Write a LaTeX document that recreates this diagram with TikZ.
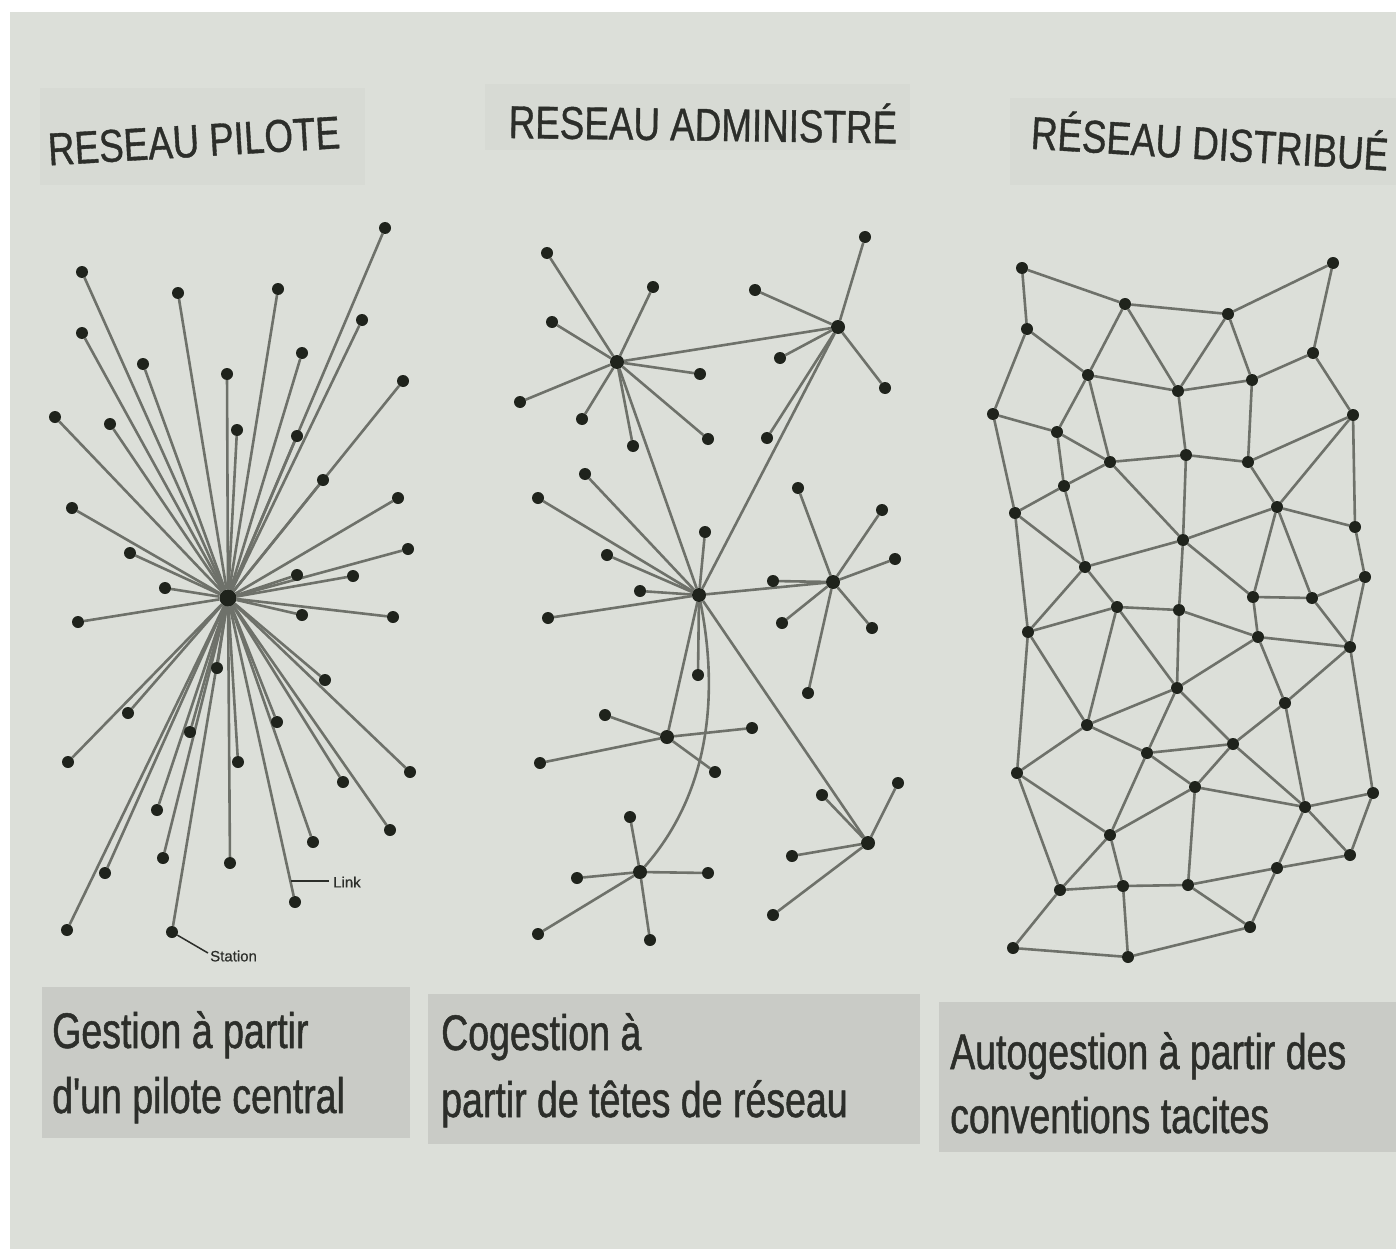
\documentclass[tikz,border=0pt]{standalone}
\usepackage{fontspec}
\setmainfont{Liberation Sans}
\newfontfamily\titlefont[FakeStretch=0.8,FakeBold=0.8]{Liberation Sans}
\newfontfamily\capfont[FakeStretch=0.75,FakeBold=1.0]{Liberation Sans}
\newfontfamily\smallfont[FakeBold=0.6]{Liberation Sans}
\pgfdeclarelayer{bg}
\pgfdeclarelayer{edges}
\pgfsetlayers{bg,edges,main}
\definecolor{paper}{HTML}{DCDFD9}
\definecolor{titlebox}{HTML}{D7DAD4}
\definecolor{capbox}{HTML}{C9CBC6}
\definecolor{dotc}{HTML}{1F231C}
\definecolor{linec}{HTML}{6E716A}
\definecolor{inkc}{HTML}{2C2E2A}
\begin{document}
\begin{tikzpicture}[x=1pt,y=-1pt,
  dot/.style={circle,fill=dotc,inner sep=0pt,minimum size=12pt},
  hubdot/.style={circle,fill=dotc,inner sep=0pt,minimum size=14pt},
  link/.style={draw=linec,line width=2.6pt},
  leader/.style={draw=inkc,line width=1.5pt},
  ttl/.style={text=inkc,font=\titlefont\fontsize{46}{50}\selectfont,inner sep=0pt},
  captxt/.style={text=inkc,font=\capfont\fontsize{50}{64}\selectfont,inner sep=0pt,anchor=base west},
  smalltxt/.style={text=inkc,font=\smallfont\fontsize{15}{16}\selectfont,inner sep=0pt,anchor=west}]
\useasboundingbox (0,0) rectangle (1396,1249);
\begin{pgfonlayer}{bg}
  \fill[white] (0,0) rectangle (1396,1249);
  \fill[paper] (10,12) rectangle (1396,1249);
  \fill[titlebox] (40,88) rectangle (365,185);
  \fill[titlebox] (485,84) rectangle (910,150);
  \fill[titlebox] (1010,98) rectangle (1396,185);
  \fill[capbox] (42,987) rectangle (410,1138);
  \fill[capbox] (428,994) rectangle (920,1144);
  \fill[capbox] (939,1002) rectangle (1396,1152);
\end{pgfonlayer}

% titles
\node[ttl,rotate=3.4] (t1) at (194,141) {RESEAU PILOTE};
\node[ttl,rotate=-0.8] (t2) at (703,121) {RESEAU ADMINISTRÉ};
\node[ttl,rotate=-3.5] (t3) at (1210,140) {RÉSEAU DISTRIBUÉ};

% captions
\node[captxt] (c1a) at (52,1048) {Gestion à partir};
\node[captxt] (c1b) at (52,1113) {d'un pilote central};
\node[captxt] (c2a) at (441,1050) {Cogestion à};
\node[captxt] (c2b) at (441,1117) {partir de têtes de réseau};
\node[captxt] (c3a) at (950,1069) {Autogestion à partir des};
\node[captxt] (c3b) at (950,1133) {conventions tacites};

% ---------- pilot network ----------
\node[circle,fill=dotc,inner sep=0pt,minimum size=17pt] (pc) at (228,598) {};
\foreach \i/\x/\y in {1/385/228,2/82/272,3/178/293,4/278/289,5/362/320,6/82/333,
  7/302/353,8/143/364,9/227/374,10/403/381,11/55/417,12/110/424,13/237/430,
  14/297/436,15/323/480,16/72/508,17/398/498,18/130/553,19/408/549,20/353/576,
  21/297/575,22/165/588,23/78/622,24/302/615,25/393/617,26/217/668,27/325/680,
  28/128/713,29/277/722,30/190/732,31/68/762,32/238/762,33/410/772,34/343/782,
  35/157/810,36/390/830,37/313/842,38/163/858,39/230/863,40/105/873,41/295/902,
  42/67/930,43/172/932}{
  \node[dot] (p\i) at (\x,\y) {};
  \begin{pgfonlayer}{edges}\draw[link] (pc) -- (p\i);\end{pgfonlayer}
}
\coordinate (lkA) at (291,881);
\coordinate (lkB) at (329,881);
\draw[leader] (lkA) -- (lkB);
\node[smalltxt] (lk) at (333,882) {Link};
\coordinate (stB) at (208,953);
\draw[leader] (p43) -- (stB);
\node[smalltxt] (st) at (210,956) {Station};

% ---------- administered network ----------
\node[hubdot] (aA) at (617,362) {};
\node[hubdot] (aB) at (838,327) {};
\node[hubdot] (aC) at (699,595) {};
\node[hubdot] (aD) at (833,582) {};
\node[hubdot] (aE) at (667,737) {};
\node[hubdot] (aF) at (868,843) {};
\node[hubdot] (aG) at (640,872) {};
\begin{pgfonlayer}{edges}
  \draw[link] (aA) -- (aB);
  \draw[link] (aA) -- (aC);
  \draw[link] (aB) -- (aC);
  \draw[link] (aC) -- (aD);
  \draw[link] (aC) -- (aE);
  \draw[link] (aC) -- (aF);
  \draw[link] (aC) .. controls (718,690) and (712,790) .. (aG);
\end{pgfonlayer}
\foreach \n/\x/\y/\h in {a1/547/253/aA,a2/653/287/aA,a3/552/322/aA,a4/520/402/aA,
  a5/582/419/aA,a6/633/446/aA,a7/700/374/aA,a8/708/439/aA,
  a9/865/237/aB,a10/755/290/aB,a11/780/358/aB,a12/885/388/aB,a13/767/438/aB,
  a14/585/474/aC,a15/538/498/aC,a16/607/555/aC,a17/705/532/aC,a18/640/591/aC,
  a19/548/618/aC,a20/698/675/aC,
  a21/798/488/aD,a22/882/510/aD,a23/895/559/aD,a24/773/581/aD,a25/782/623/aD,
  a26/872/628/aD,a27/808/693/aD,
  a28/605/715/aE,a29/752/728/aE,a30/540/763/aE,a31/715/772/aE,
  a32/898/783/aF,a33/822/795/aF,a34/792/856/aF,a35/773/915/aF,
  a36/630/817/aG,a37/577/878/aG,a38/708/873/aG,a39/538/934/aG,a40/650/940/aG}{
  \node[dot] (\n) at (\x,\y) {};
  \begin{pgfonlayer}{edges}\draw[link] (\h) -- (\n);\end{pgfonlayer}
}

% ---------- distributed network ----------
\foreach \i/\x/\y in {1/1022/268,2/1333/263,3/1125/304,4/1228/314,5/1027/329,
  6/1313/353,7/1088/375,8/1252/380,9/1178/391,10/993/414,11/1353/415,
  12/1057/432,13/1110/462,14/1186/455,15/1248/462,16/1064/486,17/1015/513,
  18/1277/507,19/1355/527,20/1183/540,21/1085/567,22/1365/577,23/1253/597,
  24/1312/598,25/1117/607,26/1179/610,27/1028/632,28/1258/637,29/1350/647,
  30/1177/688,31/1285/703,32/1087/725,33/1233/744,34/1147/753,35/1017/773,
  36/1195/787,37/1373/793,38/1305/807,39/1110/835,40/1350/855,41/1277/868,
  42/1060/890,43/1123/886,44/1188/885,45/1250/927,46/1013/948,47/1128/957}{
  \node[dot] (m\i) at (\x,\y) {};
}
\begin{pgfonlayer}{edges}
\foreach \a/\b in {1/3,1/5,3/4,4/2,2/6,3/7,3/9,4/9,4/8,5/7,5/10,7/9,9/8,8/6,
  6/11,7/12,7/13,9/14,8/15,10/12,10/17,12/13,12/16,13/14,14/15,15/11,11/18,
  11/19,13/16,13/20,14/20,15/18,16/17,16/21,17/21,17/27,18/20,18/19,18/23,
  18/24,19/22,20/21,20/26,20/23,21/25,21/27,22/24,22/29,23/24,23/28,24/29,
  25/26,25/27,25/32,25/30,26/30,26/28,28/29,28/30,28/31,29/31,29/37,27/32,
  27/35,30/32,30/34,30/33,31/33,31/38,32/34,32/35,34/33,34/36,34/39,33/36,
  33/38,36/38,36/39,36/44,35/39,35/42,38/37,38/40,38/41,37/40,39/42,39/43,
  40/41,41/44,41/45,42/43,43/44,44/45,42/46,43/47,46/47,47/45}{
  \draw[link] (m\a) -- (m\b);
}
\end{pgfonlayer}
\end{tikzpicture}
\end{document}
